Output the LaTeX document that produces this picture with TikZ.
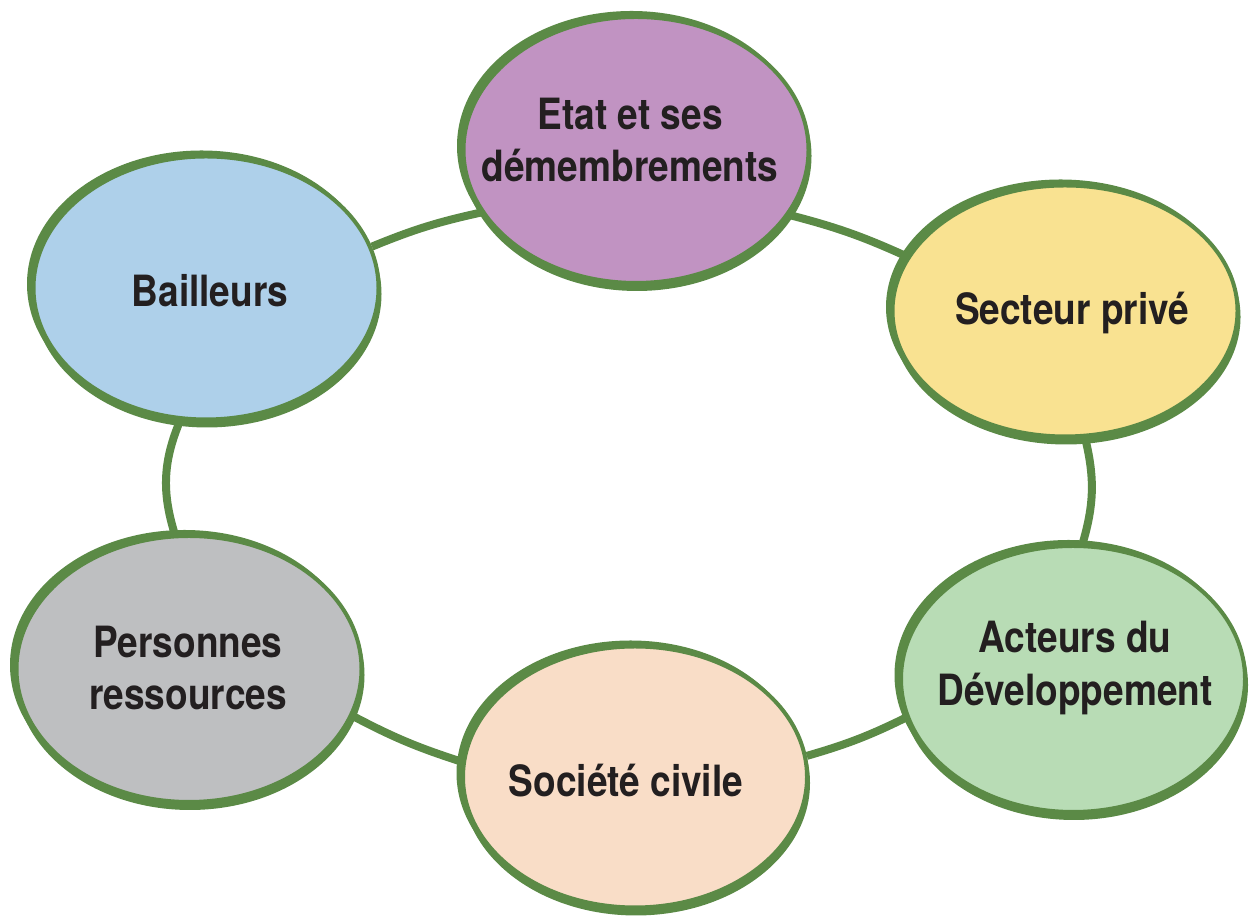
\documentclass[tikz,border=0pt]{standalone}
\usepackage{fontspec}
\newfontfamily\labfont[FakeStretch=0.86]{TeX Gyre Heros}
\usetikzlibrary{shapes.geometric,backgrounds}
\definecolor{grn}{HTML}{5B8A46}
\definecolor{cpurple}{HTML}{C193C2}
\definecolor{cblue}{HTML}{AED0EA}
\definecolor{cyellow}{HTML}{F9E291}
\definecolor{cgreen}{HTML}{B8DCB5}
\definecolor{cgrey}{HTML}{BEBFC1}
\definecolor{cpeach}{HTML}{F9DDC7}
\definecolor{txt}{HTML}{231F20}
\tikzset{
  bubble/.style={ellipse, draw=grn, line width=0.08cm, inner sep=0pt,
    preaction={fill=grn, draw=grn, line width=0.08cm, transform canvas={xshift=-0.09cm,yshift=0.08cm}},
    preaction={fill=grn, draw=grn, line width=0.08cm, transform canvas={xshift=0.02cm,yshift=-0.12cm}}},
  lab/.style={font=\labfont\bfseries\fontsize{24.5}{30}\selectfont, text=txt, align=center, inner sep=0pt},
  link/.style={draw=grn, line width=0.16cm}
}
\begin{document}
\begin{tikzpicture}
\useasboundingbox (0,0) rectangle (25,18.34);
\node[bubble, fill=cpurple, minimum width=6.9cm, minimum height=5.32cm] (etat) at (12.72,15.34) {};
\node[bubble, fill=cblue, minimum width=6.9cm, minimum height=5.26cm] (bail) at (4.12,12.58) {};
\node[bubble, fill=cyellow, minimum width=6.9cm, minimum height=5.02cm] (sect) at (21.3,12.12) {};
\node[bubble, fill=cgreen, minimum width=6.88cm, minimum height=5.32cm] (act) at (21.46,4.76) {};
\node[bubble, fill=cgrey, minimum width=6.9cm, minimum height=5.32cm] (pers) at (3.78,4.96) {};
\node[bubble, fill=cpeach, minimum width=6.88cm, minimum height=5.22cm] (soc) at (12.7,2.8) {};

\node[lab] (etatT) at (12.6,15.54) {Etat et ses\\démembrements};
\node[lab] (bailT) at (4.2,12.52) {Bailleurs};
\node[lab] (sectT) at (21.44,12.08) {Secteur privé};
\node[lab] (actT) at (21.5,4.98) {Acteurs du\\Développement};
\node[lab] (persT) at (3.76,4.98) {Personnes\\ressources};
\node[lab] (socT) at (12.52,2.72) {Société civile};

\begin{scope}[on background layer]
\draw[link] (bail.14) to[bend left=5] (etat.202);
\draw[link] (etat.-23) to[bend left=5] (sect.161);
\draw[link] (sect.-81) to[bend left=15] (act.86);
\draw[link] (act.193) to[bend left=5] (soc.7);
\draw[link] (soc.175) to[bend left=5] (pers.-16);
\draw[link] (pers.96) to[bend left=20] (bail.259);
\end{scope}
\end{tikzpicture}
\end{document}
